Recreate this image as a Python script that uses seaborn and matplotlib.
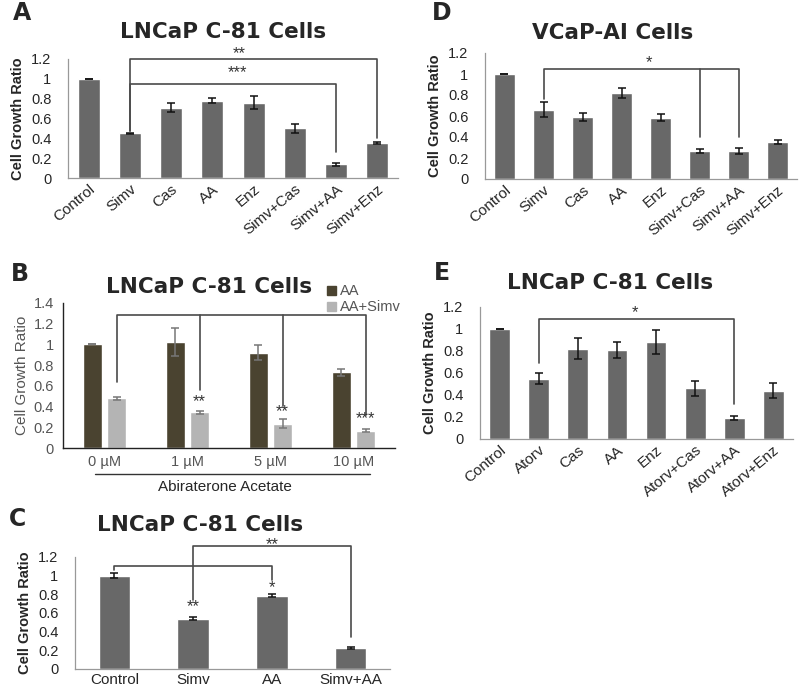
import numpy as np
import pandas as pd
import matplotlib
matplotlib.use('agg')
import matplotlib.pyplot as plt
from matplotlib.lines import Line2D
import seaborn as sns

### data ###

# panel A - LNCaP C-81, simvastatin combos
a_labels = ["Control", "Simv", "Cas", "AA", "Enz", "Simv+Cas", "Simv+AA", "Simv+Enz"]
a_vals = [1.0, 0.45, 0.71, 0.78, 0.76, 0.50, 0.14, 0.355]
a_err = [0.003, 0.008, 0.045, 0.025, 0.065, 0.045, 0.015, 0.01]

# panel D - VCaP-AI
d_labels = ["Control", "Simv", "Cas", "AA", "Enz", "Simv+Cas", "Simv+AA", "Simv+Enz"]
d_vals = [1.0, 0.66, 0.59, 0.82, 0.585, 0.27, 0.265, 0.35]
d_err = [0.003, 0.07, 0.035, 0.05, 0.035, 0.02, 0.03, 0.02]

# panel E - LNCaP C-81, atorvastatin combos
e_labels = ["Control", "Atorv", "Cas", "AA", "Enz", "Atorv+Cas", "Atorv+AA", "Atorv+Enz"]
e_vals = [1.0, 0.55, 0.82, 0.81, 0.88, 0.46, 0.19, 0.44]
e_err = [0.003, 0.05, 0.095, 0.075, 0.11, 0.07, 0.02, 0.07]

# panel C
c_labels = ["Control", "Simv", "AA", "Simv+AA"]
c_vals = [1.0, 0.54, 0.785, 0.225]
c_err = [0.025, 0.02, 0.015, 0.008]

# panel B - abiraterone dose response
b_conc = ["0 µM", "1 µM", "5 µM", "10 µM"]
b_groups = ["AA", "AA+Simv"]
b_aa = [1.0, 1.02, 0.92, 0.73]
b_aa_err = [0.0, 0.135, 0.075, 0.03]
b_simv = [0.48, 0.345, 0.235, 0.165]
b_simv_err = [0.012, 0.012, 0.045, 0.015]

W, H = 800, 690
BAR = "#686868"
LINE = "#4a4a4a"

sns.set_style("white")
plt.rcParams['font.family'] = ['Liberation Sans', 'DejaVu Sans']
NARROW = ['Liberation Sans Narrow', 'Liberation Sans', 'DejaVu Sans']
WIDE = ['DejaVu Sans']

fig = plt.figure(figsize=(W / 100, H / 100), dpi=100)


def px_axes(left, right, top, bottom):
    return fig.add_axes([left / W, 1 - bottom / H, (right - left) / W, (bottom - top) / H])


def ftext(x, y, s, **kw):
    fig.text(x / W, 1 - y / H, s, **kw)


def title(x, y, s):
    ftext(x, y, s, family=WIDE, fontsize=15.5, fontweight="bold", ha="center", va="center")


def letter(x, y, s):
    ftext(x, y, s, family=WIDE, fontsize=17, fontweight="bold", ha="center", va="center")


def bracket(ax, x1, x2, h, y1, y2, mids=()):
    kw = dict(color=LINE, lw=1.2, clip_on=False)
    ax.plot([x1, x1, x2, x2], [y1, h, h, y2], **kw)
    for xm, ym in mids:
        ax.plot([xm, xm], [h, ym], **kw)


def stars(ax, x, y, s, size=12):
    ax.text(x, y, s, ha="center", va="center", fontsize=size, color="#333333", clip_on=False)


def bar_panel(ax, labels, vals, errs, width, rot=40, ymax=1.2):
    sns.barplot(x=labels, y=vals, color=BAR, width=width, saturation=1, ax=ax)
    ax.errorbar(np.arange(len(vals)), vals, yerr=errs, fmt="none", ecolor="#111111",
                elinewidth=1.1, capsize=3, capthick=1.1)
    ax.set_ylim(0, ymax)
    ax.set_xlim(-0.5, len(vals) - 0.5)
    ax.set_yticks(np.arange(0, ymax + 0.01, 0.2))
    ax.set_yticklabels(["0", "0.2", "0.4", "0.6", "0.8", "1", "1.2"][: len(ax.get_yticks())])
    sns.despine(ax=ax)
    for sp in ["left", "bottom"]:
        ax.spines[sp].set_color("#999999")
        ax.spines[sp].set_linewidth(0.9)
    ax.set_xticks(np.arange(len(vals) + 1) - 0.5, minor=True)
    ax.tick_params(axis="x", which="major", length=0, pad=3)
    ax.tick_params(axis="x", which="minor", length=4, color="#999999", direction="out")
    ax.tick_params(axis="y", length=5, color="#999999", direction="out", labelsize=10.5, pad=7)
    if rot:
        plt.setp(ax.get_xticklabels(), rotation=rot, ha="right", rotation_mode="anchor", fontsize=11)
    else:
        plt.setp(ax.get_xticklabels(), fontsize=11)
    ax.set_ylabel("Cell Growth Ratio", family=NARROW, fontweight="bold", fontsize=10.5, labelpad=4)


# ---- panel A ----
axA = px_axes(68, 398, 59, 178)
bar_panel(axA, a_labels, a_vals, a_err, 0.53)
bracket(axA, 1, 7, 1.2, 0.47, 0.40)
bracket(axA, 1, 6, 0.95, 0.47, 0.26)
stars(axA, 3.65, 1.25, "**")
stars(axA, 3.6, 1.06, "***")
letter(22, 13, "A")
title(223, 32, "LNCaP C-81 Cells")

# ---- panel D ----
axD = px_axes(485, 797, 53, 179)
bar_panel(axD, d_labels, d_vals, d_err, 0.53)
bracket(axD, 1, 6, 1.05, 0.76, 0.40, mids=[(5, 0.40)])
stars(axD, 3.7, 1.11, "*")
letter(442, 13, "D")
title(613, 33, "VCaP-AI Cells")

# ---- panel E ----
axE = px_axes(480, 793, 307, 439)
bar_panel(axE, e_labels, e_vals, e_err, 0.53)
bracket(axE, 1, 6, 1.09, 0.69, 0.315)
stars(axE, 3.46, 1.15, "*")
letter(442, 273, "E")
title(610, 283, "LNCaP C-81 Cells")

# ---- panel C ----
axC = px_axes(75, 390, 557, 669)
bar_panel(axC, c_labels, c_vals, c_err, 0.4, rot=0)
bracket(axC, 0, 2, 1.1, 1.06, 0.95)
bracket(axC, 1, 3, 1.316, 0.735, 0.34)
stars(axC, 1.0, 0.67, "**")
stars(axC, 2.0, 0.87, "*")
stars(axC, 2.0, 1.335, "**")
letter(18, 519, "C")
title(200, 525, "LNCaP C-81 Cells")

# ---- panel B ----
df_b = pd.DataFrame({
    "conc": b_conc * 2,
    "group": [b_groups[0]] * 4 + [b_groups[1]] * 4,
    "value": b_aa + b_simv,
})
axB = px_axes(63, 395, 303, 448)
sns.barplot(data=df_b, x="conc", y="value", hue="group", palette=["#4a4330", "#b4b4b4"],
            width=0.58, gap=0.24, saturation=1, ax=axB, legend=False)
xs = np.arange(4)
axB.errorbar(xs - 0.145, b_aa, yerr=b_aa_err, fmt="none", ecolor="#777777",
             elinewidth=1.1, capsize=3, capthick=1.1)
axB.errorbar(xs + 0.145, b_simv, yerr=b_simv_err, fmt="none", ecolor="#777777",
             elinewidth=1.1, capsize=3, capthick=1.1)
axB.set_ylim(0, 1.4)
axB.set_xlim(-0.5, 3.5)
axB.set_yticks(np.arange(0, 1.41, 0.2))
axB.set_yticklabels(["0", "0.2", "0.4", "0.6", "0.8", "1", "1.2", "1.4"])
sns.despine(ax=axB)
for sp in ["left", "bottom"]:
    axB.spines[sp].set_color("#222222")
    axB.spines[sp].set_linewidth(1.0)
axB.set_xticks(np.arange(5) - 0.5, minor=True)
axB.tick_params(axis="x", which="major", length=0, pad=5, labelsize=10.5, labelcolor="#555555")
axB.tick_params(axis="x", which="minor", length=7, color="#222222", direction="inout")
axB.tick_params(axis="y", length=7, color="#222222", direction="inout", labelsize=10.5,
                labelcolor="#555555", pad=3)
axB.set_xlabel("")
axB.set_ylabel("Cell Growth Ratio", family=NARROW, fontsize=11, color="#555555", labelpad=3)
bracket(axB, 0.145, 3.145, 1.28, 0.635, 0.32, mids=[(1.145, 0.56), (2.145, 0.41)])
stars(axB, 1.145, 0.45, "**")
stars(axB, 2.145, 0.35, "**")
stars(axB, 3.145, 0.28, "***")
handles = [plt.Rectangle((0, 0), 1, 1, color=c) for c in ["#4a4330", "#b4b4b4"]]
leg = axB.legend(handles, b_groups, loc="upper left", bbox_to_anchor=(320 / W, 1 - 277 / H),
                 bbox_transform=fig.transFigure, frameon=False, fontsize=10.5,
                 handlelength=0.6, handleheight=0.6, handletextpad=0.3,
                 labelspacing=0.15, borderpad=0, labelcolor="#555555")
fig.add_artist(Line2D([95 / W, 370 / W], [1 - 474 / H, 1 - 474 / H], color="#333333", lw=1.0))
ftext(225, 487, "Abiraterone Acetate", fontsize=11, ha="center", va="center")
letter(20, 274, "B")
title(209, 287, "LNCaP C-81 Cells")

fig.savefig("out.png", dpi=100)
